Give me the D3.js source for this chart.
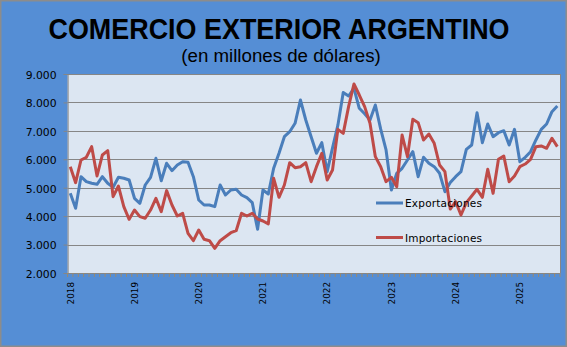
<!DOCTYPE html>
<html><head><meta charset="utf-8">
<script src="https://cdn.jsdelivr.net/npm/d3@7"></script>
<style>
html,body{margin:0;padding:0;background:#fff;}
svg{display:block;}
</style></head>
<body>
<script>
const title = "COMERCIO EXTERIOR ARGENTINO";
const subtitle = "(en millones de dólares)";
const years = ["2018","2019","2020","2021","2022","2023","2024","2025"];
const yTicks = [2000,3000,4000,5000,6000,7000,8000,9000];
const seriesNames = ["Exportaciones","Importaciones"];
const exportaciones = [
  4804,4276,5388,5212,5155,5120,5388,5155,5015,5366,5331,5272,
  4628,4452,5096,5366,6035,5247,5859,5600,5799,5916,5894,5388,
  4568,4392,4390,4333,5096,4744,4920,4944,4744,4650,4474,3537,
  4920,4779,5683,6211,6795,6970,7266,8085,7382,6795,6211,6584,
  5564,6400,7200,8350,8226,8497,7793,7600,7382,7910,7060,6327,
  4920,5507,5683,5975,6268,5388,6070,5859,5740,5507,4860,5180,
  5388,5564,6351,6503,7640,6584,7241,6795,6936,7006,6503,7053,
  5916,6070,6268,6679,7053,7241,7675,7875
];
const importaciones = [
  5740,5177,5975,6070,6444,5412,6151,6303,4685,5060,4333,3889,
  4216,3981,3924,4216,4628,4157,4897,4392,4005,4100,3397,3137,
  3513,3186,3137,2868,3137,3277,3418,3488,4100,4005,4100,3900,
  3830,3730,5331,4663,5096,5880,5704,5740,5880,5212,5740,6211,
  5272,5624,7053,6913,7851,8648,8261,7851,7266,6093,5740,5212,
  5366,5036,6854,6093,7406,7288,6679,6890,6562,5799,5564,4250,
  4510,4040,4474,4709,4944,4663,5648,4803,5999,6116,5212,5412,
  5740,5834,5999,6444,6468,6386,6738,6444
];

const W = 567, H = 347;
const plot = {left: 67.6, right: 560, top: 74, bottom: 273};
const months = d3.range(exportaciones.length);
const FONT = "DejaVu Sans, Verdana, sans-serif";

const svg = d3.select("body").append("svg").attr("width", W).attr("height", H);

// background & border
svg.append("rect").attr("x",0).attr("y",0).attr("width",W).attr("height",H).attr("fill","#8c8c8c");
svg.append("rect").attr("x",1.5).attr("y",1.5).attr("width",W-3).attr("height",H-3).attr("fill","#558ED5");

// title
svg.append("text").attr("x",279).attr("y",39).attr("text-anchor","middle")
  .attr("font-family","Liberation Sans, Arial, sans-serif").attr("font-weight","bold")
  .attr("font-size",29).attr("textLength",461).attr("lengthAdjust","spacingAndGlyphs")
  .attr("fill","#000").text(title);
svg.append("text").attr("x",281).attr("y",62).attr("text-anchor","middle")
  .attr("font-family","Liberation Sans, Arial, sans-serif")
  .attr("font-size",18.7).attr("fill","#000").text(subtitle);

const x = d3.scaleBand().domain(months).range([plot.left, plot.right]).padding(0);
const cx = i => x(i) + x.bandwidth()/2;
const y = d3.scaleLinear().domain([2000,9000]).range([plot.bottom, plot.top]);

// plot area
svg.append("rect").attr("x",plot.left).attr("y",plot.top)
  .attr("width",plot.right-plot.left).attr("height",plot.bottom-plot.top)
  .attr("fill","#DCE6F2");

// gridlines
svg.append("g").selectAll("line").data(yTicks.filter(d=>d>2000)).join("line")
  .attr("x1",plot.left).attr("x2",plot.right)
  .attr("y1",d=>Math.round(y(d))+0.5).attr("y2",d=>Math.round(y(d))+0.5)
  .attr("stroke","#868686").attr("stroke-width",1);

// right border of plot
svg.append("line").attr("x1",plot.right+0.5).attr("x2",plot.right+0.5)
  .attr("y1",plot.top).attr("y2",plot.bottom).attr("stroke","#868686");

// y axis
const yAxis = d3.axisLeft(y).tickValues(yTicks).tickSize(4).tickPadding(7)
  .tickFormat(d => d3.format(",")(d).replace(/,/g,"."));
const gy = svg.append("g").attr("transform",`translate(${plot.left},0)`).call(yAxis);
gy.select(".domain").attr("stroke","#868686");
gy.selectAll(".tick line").attr("stroke","#868686");
gy.selectAll("text").attr("font-family",FONT)
  .attr("font-size",10.8).attr("fill","#000").attr("dy","0.4em");

// x axis line + monthly ticks
svg.append("line").attr("x1",plot.left).attr("x2",plot.right)
  .attr("y1",plot.bottom+0.5).attr("y2",plot.bottom+0.5).attr("stroke","#868686");
svg.append("g").selectAll("line").data(d3.range(exportaciones.length+1)).join("line")
  .attr("x1",i=>plot.left + i*x.step()).attr("x2",i=>plot.left + i*x.step())
  .attr("y1",plot.bottom).attr("y2",plot.bottom+4)
  .attr("stroke","#9a8a70").attr("stroke-width",1);

// year labels
svg.append("g").selectAll("text").data(years).join("text")
  .attr("transform",(d,i)=>`translate(${cx(i*12)+3.3},282) rotate(-90)`)
  .attr("text-anchor","end")
  .attr("font-family",FONT).attr("font-size",8.8)
  .attr("fill","#000").text(d=>d);

// lines
const line = d3.line().x((d,i)=>cx(i)).y(d=>y(d));
const colors = ["#4A7EBB","#BE4B48"];
[exportaciones, importaciones].forEach((s,k)=>{
  svg.append("path").datum(s).attr("d",line).attr("fill","none")
    .attr("stroke",colors[k]).attr("stroke-width",3).attr("stroke-linejoin","round");
});

// legend
const legY = [203, 237.5];
seriesNames.forEach((n,k)=>{
  svg.append("line").attr("x1",376).attr("x2",403).attr("y1",legY[k]).attr("y2",legY[k])
    .attr("stroke",colors[k]).attr("stroke-width",3);
  svg.append("text").attr("x",405).attr("y",legY[k]+4)
    .attr("font-family",FONT).attr("font-size",10.5)
    .attr("textLength",77).attr("lengthAdjust","spacing")
    .attr("fill","#000").text(n);
});
</script>
</body></html>
